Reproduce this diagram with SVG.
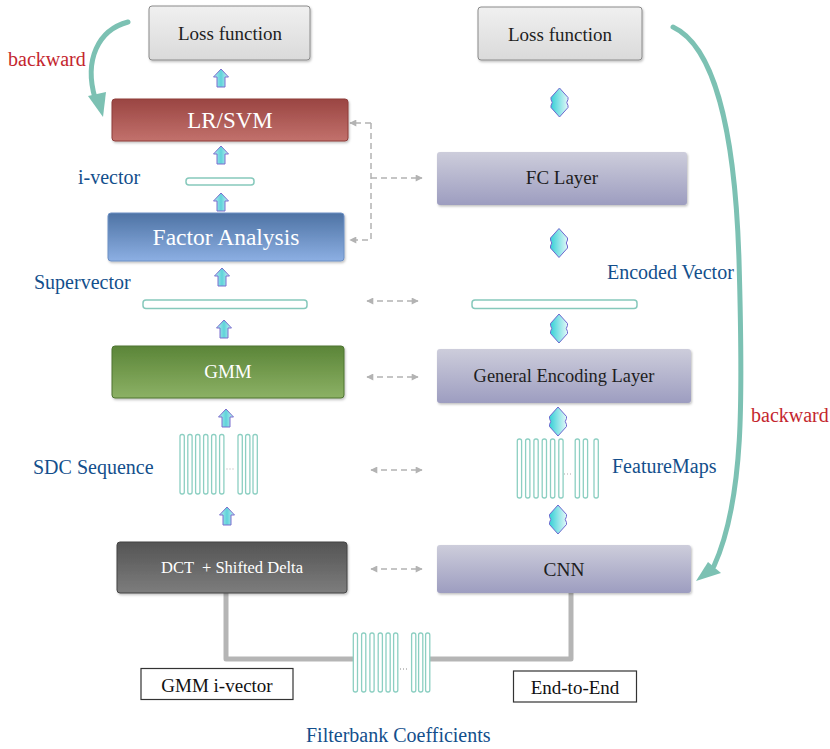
<svg xmlns="http://www.w3.org/2000/svg" width="830" height="749" viewBox="0 0 830 749">
<defs>
<style>
text{font-family:"Liberation Serif","Times New Roman",serif;}
.lbl{fill:#134f8c;font-size:20px;}
.bw{fill:#c4262e;font-size:20px;}
.wt{fill:#ffffff;text-anchor:middle;}
.dk{fill:#1e1e1e;text-anchor:middle;}
.bar{fill:#ffffff;stroke:#8ccfc2;stroke-width:1.3;}
.vec{fill:#ffffff;stroke:#86c9bc;stroke-width:1.5;}
.dash{fill:none;stroke:#b3b3b3;stroke-width:1.5;stroke-dasharray:6 4;}
.back{fill:none;stroke:#7cc1b3;stroke-width:5;stroke-linecap:round;}
.pipe{fill:none;stroke:#b5b5b5;stroke-width:5;stroke-linejoin:round;}
.up{fill:url(#gArrow);stroke:#7a6fcf;stroke-width:1;stroke-linejoin:round;}
.dbl{fill:url(#gArrow2);stroke:#6d68cf;stroke-width:1;stroke-linejoin:round;}
.tag{fill:#ffffff;stroke:#333333;stroke-width:1.2;}
</style>
<linearGradient id="gLoss" x1="0" y1="0" x2="0" y2="1"><stop offset="0" stop-color="#f0f0f0"/><stop offset="1" stop-color="#dadada"/></linearGradient>
<linearGradient id="gRed" x1="0" y1="0" x2="0" y2="1"><stop offset="0" stop-color="#9a4542"/><stop offset="1" stop-color="#c2716c"/></linearGradient>
<linearGradient id="gBlue" x1="0" y1="0" x2="0" y2="1"><stop offset="0" stop-color="#4e73a4"/><stop offset="1" stop-color="#8cafe3"/></linearGradient>
<linearGradient id="gGreen" x1="0" y1="0" x2="0" y2="1"><stop offset="0" stop-color="#5b8538"/><stop offset="1" stop-color="#8cb165"/></linearGradient>
<linearGradient id="gGray" x1="0" y1="0" x2="0" y2="1"><stop offset="0" stop-color="#545454"/><stop offset="1" stop-color="#7d7d7d"/></linearGradient>
<linearGradient id="gLav" x1="0" y1="0" x2="0" y2="1"><stop offset="0" stop-color="#cdcddb"/><stop offset="1" stop-color="#9d9dc0"/></linearGradient>
<linearGradient id="gArrow" x1="0" y1="0" x2="1" y2="0"><stop offset="0" stop-color="#b6ecef"/><stop offset="0.5" stop-color="#5fd3da"/><stop offset="1" stop-color="#c8f2f3"/></linearGradient>
<linearGradient id="gArrow2" x1="0" y1="0" x2="1" y2="0"><stop offset="0" stop-color="#36d0d6"/><stop offset="1" stop-color="#e2f8f8"/></linearGradient>
<filter id="sh" x="-5%" y="-10%" width="110%" height="130%"><feDropShadow dx="1" dy="1.5" stdDeviation="1" flood-color="#000" flood-opacity="0.25"/></filter>
<marker id="ah" viewBox="0 0 10 10" refX="9" refY="5" markerWidth="8" markerHeight="7" markerUnits="userSpaceOnUse" orient="auto-start-reverse"><path d="M0,0 L10,5 L0,10 Z" fill="#b3b3b3"/></marker>
<path id="upA" d="M0,0 L7.5,8 L4,8 L4,18 L-4,18 L-4,8 L-7.5,8 Z"/>
<path id="dblA" d="M0,-14.5 L8.5,-5 L8.5,-3 Q6,0 8.5,3 L8.5,5 L0,14.5 L-8.5,5 L-8.5,3 Q-6,0 -8.5,-3 L-8.5,-5 Z"/>
</defs>

<g id="backward-arrows">
<path class="back" d="M128,22 C98,30 84,60 95,98"/>
<polygon points="88,96 106,92 103,117" fill="#7cc1b3"/>
<text class="bw" x="8" y="66">backward</text>
<path class="back" d="M673,27 C714,46 735,130 739,260 C743,400 744,500 714,566"/>
<polygon points="696,581 708,562 721,573" fill="#7cc1b3"/>
<text class="bw" x="751" y="422">backward</text>
</g>

<g id="connectors">
<g id="flow-left">
<use href="#upA" class="up" x="221" y="69"/>
<use href="#upA" class="up" x="221" y="146"/>
<use href="#upA" class="up" x="221" y="193"/>
<use href="#upA" class="up" x="222" y="268"/>
<use href="#upA" class="up" x="224" y="320"/>
<use href="#upA" class="up" x="226" y="409"/>
<use href="#upA" class="up" x="227" y="507"/>
</g>
<g id="flow-right">
<use href="#dblA" class="dbl" x="559.5" y="102.5"/>
<use href="#dblA" class="dbl" x="559" y="243"/>
<use href="#dblA" class="dbl" x="559" y="328.5"/>
<use href="#dblA" class="dbl" x="558" y="421.5"/>
<use href="#dblA" class="dbl" x="558" y="519.5"/>
</g>
<g id="dashed">
<path class="dash" d="M371,123 L350,123" marker-end="url(#ah)"/>
<path class="dash" d="M371,123 L371,240 L350,240" marker-end="url(#ah)"/>
<path class="dash" d="M371,178 L422,178" marker-end="url(#ah)"/>
<path class="dash" d="M367,301 L418,301" marker-start="url(#ah)" marker-end="url(#ah)"/>
<path class="dash" d="M367,377 L418,377" marker-start="url(#ah)" marker-end="url(#ah)"/>
<path class="dash" d="M371,470 L422,470" marker-start="url(#ah)" marker-end="url(#ah)"/>
<path class="dash" d="M371,569 L422,569" marker-start="url(#ah)" marker-end="url(#ah)"/>
</g>
<g id="pipes">
<path class="pipe" d="M226,593 L226,659 L355,659"/>
<path class="pipe" d="M430,659 L571,659 L571,593"/>
</g>
</g>

<g id="loss-left"><rect x="149" y="6" width="161" height="54" rx="3" fill="url(#gLoss)" stroke="#8a8a8a" filter="url(#sh)"/><text class="dk" x="230" y="40" font-size="19" fill="#333">Loss function</text></g>
<g id="loss-right"><rect x="478" y="7" width="164" height="53" rx="3" fill="url(#gLoss)" stroke="#8a8a8a" filter="url(#sh)"/><text class="dk" x="560" y="41" font-size="19" fill="#333">Loss function</text></g>

<g id="lr-svm"><rect x="112" y="99" width="236" height="42" rx="3" fill="url(#gRed)" stroke="#8e3d3a" filter="url(#sh)"/><text class="wt" x="230" y="128" font-size="23">LR/SVM</text></g>

<g id="i-vector"><rect class="vec" x="186" y="178" width="68" height="7" rx="3"/><text class="lbl" x="78" y="184">i-vector</text></g>

<g id="factor-analysis"><rect x="108" y="213" width="236" height="48" rx="3" fill="url(#gBlue)" stroke="#6d90c4" filter="url(#sh)"/><text class="wt" x="226" y="245" font-size="23.5">Factor Analysis</text></g>

<g id="supervector"><rect class="vec" x="143" y="300" width="164" height="8.5" rx="3"/><text class="lbl" x="34" y="289" font-size="20.5">Supervector</text></g>

<g id="gmm"><rect x="112" y="346" width="232" height="52" rx="3" fill="url(#gGreen)" stroke="#4e7430" filter="url(#sh)"/><text class="wt" x="228" y="378" font-size="19">GMM</text></g>

<g id="sdc-sequence">
<rect class="bar" x="180" y="434.5" width="4.3" height="59.5" rx="2"/>
<rect class="bar" x="187.8" y="434.5" width="4.3" height="59.5" rx="2"/>
<rect class="bar" x="195.6" y="434.5" width="4.3" height="59.5" rx="2"/>
<rect class="bar" x="203.6" y="434.5" width="4.3" height="59.5" rx="2"/>
<rect class="bar" x="211.6" y="434.5" width="4.3" height="59.5" rx="2"/>
<rect class="bar" x="219.6" y="434.5" width="4.3" height="59.5" rx="2"/>
<rect class="bar" x="238" y="434.5" width="4.3" height="59.5" rx="2"/>
<rect class="bar" x="245.6" y="434.5" width="4.3" height="59.5" rx="2"/>
<rect class="bar" x="253" y="434.5" width="4.3" height="59.5" rx="2"/>
<line x1="226.5" y1="469" x2="235" y2="469" stroke="#aaa" stroke-width="1" stroke-dasharray="1 2"/>
<text class="lbl" x="33" y="474" font-size="20.4">SDC Sequence</text>
</g>

<g id="dct"><rect x="117" y="542" width="230" height="51" rx="3" fill="url(#gGray)" stroke="#444" filter="url(#sh)"/><text class="wt" x="232" y="573" font-size="16.5" xml:space="preserve">DCT  + Shifted Delta</text></g>

<g id="fc-layer"><rect x="437" y="152" width="250" height="53" rx="3" fill="url(#gLav)" filter="url(#sh)"/><text class="dk" x="562" y="184" font-size="19">FC Layer</text></g>

<g id="encoded-vector"><rect class="vec" x="472" y="300" width="165" height="8.5" rx="3"/><text class="lbl" x="607" y="279" font-size="18.7">Encoded Vector</text></g>

<g id="general-encoding-layer"><rect x="437" y="349" width="254" height="54" rx="3" fill="url(#gLav)" filter="url(#sh)"/><text class="dk" x="564" y="382" font-size="18.4">General Encoding Layer</text></g>

<g id="feature-maps">
<rect class="bar" x="517.3" y="439" width="4.3" height="59" rx="2"/>
<rect class="bar" x="525.6" y="439" width="4.3" height="59" rx="2"/>
<rect class="bar" x="533.9" y="439" width="4.3" height="59" rx="2"/>
<rect class="bar" x="542.2" y="439" width="4.3" height="59" rx="2"/>
<rect class="bar" x="550.5" y="439" width="4.3" height="59" rx="2"/>
<rect class="bar" x="558.8" y="439" width="4.3" height="59" rx="2"/>
<rect class="bar" x="575.2" y="439" width="4.3" height="59" rx="2"/>
<rect class="bar" x="583.3" y="439" width="4.3" height="59" rx="2"/>
<rect class="bar" x="594" y="439" width="4.3" height="59" rx="2"/>
<line x1="564" y1="474" x2="573" y2="474" stroke="#aaa" stroke-width="1" stroke-dasharray="1 2"/>
<text class="lbl" x="612" y="473" font-size="20.5">FeatureMaps</text>
</g>

<g id="cnn"><rect x="437" y="545" width="254" height="48" rx="3" fill="url(#gLav)" filter="url(#sh)"/><text class="dk" x="564" y="576" font-size="19.4">CNN</text></g>

<g id="filterbank">
<rect class="bar" x="353.3" y="633" width="4.2" height="59" rx="2"/>
<rect class="bar" x="361.6" y="633" width="4.2" height="59" rx="2"/>
<rect class="bar" x="369.9" y="633" width="4.2" height="59" rx="2"/>
<rect class="bar" x="378.2" y="633" width="4.2" height="59" rx="2"/>
<rect class="bar" x="386" y="633" width="4.2" height="59" rx="2"/>
<rect class="bar" x="393.6" y="633" width="4.2" height="59" rx="2"/>
<rect class="bar" x="411.6" y="633" width="4.2" height="59" rx="2"/>
<rect class="bar" x="418.6" y="633" width="4.2" height="59" rx="2"/>
<rect class="bar" x="425.6" y="633" width="4.2" height="59" rx="2"/>
<line x1="400" y1="669" x2="408" y2="669" stroke="#888" stroke-width="1" stroke-dasharray="1 2"/>
<text class="lbl" x="306" y="742" font-size="18">Filterbank Coefficients</text>
</g>

<g id="gmm-ivector-tag"><rect class="tag" x="141" y="668.5" width="152" height="31"/><text x="217" y="692" font-size="19" text-anchor="middle" fill="#111">GMM i-vector</text></g>
<g id="end-to-end-tag"><rect class="tag" x="513.5" y="671" width="123" height="31"/><text x="575" y="694" font-size="19" text-anchor="middle" fill="#111">End-to-End</text></g>
</svg>
